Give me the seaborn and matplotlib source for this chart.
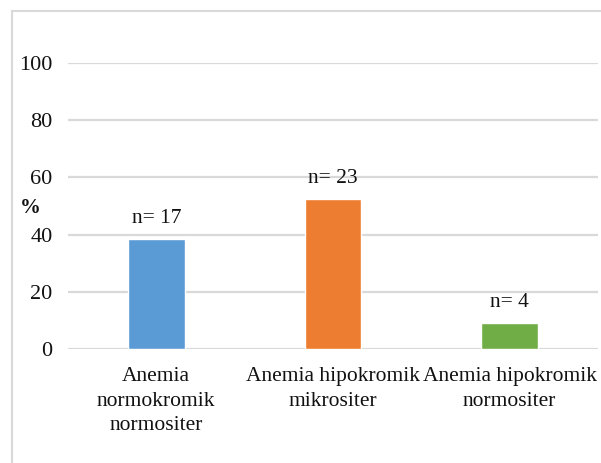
import matplotlib
matplotlib.use("Agg")
import matplotlib.pyplot as plt
import seaborn as sns
from matplotlib.patches import Rectangle

# Data
categories = ["Anemia\nnormokromik\nnormositer",
              "Anemia hipokromik\nmikrositer",
              "Anemia hipokromik\nnormositer"]
percent = [38.6, 52.3, 9.1]
counts = [17, 23, 4]
bar_colors = ["#5B9BD5", "#ED7D31", "#70AD47"]
y_ticks = [0, 20, 40, 60, 80, 100]

sns.set_style("white")
plt.rcParams["font.family"] = ["Liberation Serif", "DejaVu Serif"]

fig = plt.figure(figsize=(6.01, 4.63), dpi=100)
ax = fig.add_axes([0.113, 0.246, 0.882, 0.618])

# Outer chart border (cut by the image edge on the right and bottom)
fig.patches.append(Rectangle((12 / 601, -0.1), 1.2, 1 - 11 / 463 + 0.1,
                             transform=fig.transFigure, fill=False,
                             edgecolor="#D9D9D9", linewidth=1.5, zorder=0))

sns.barplot(x=categories, y=percent, hue=categories, palette=bar_colors,
            legend=False, width=0.32, saturation=1, ax=ax, zorder=3)

for i, (p, n) in enumerate(zip(percent, counts)):
    ax.annotate(f"n= {n}", (i, p), xytext=(0, 8), textcoords="offset points",
                ha="center", va="bottom", fontsize=15.5, color="#111111")

ax.set_ylim(0, 100)
ax.set_yticks(y_ticks)
ax.set_xlim(-0.5, 2.5)
ax.yaxis.grid(True, color="#D9D9D9", linewidth=1.6, zorder=0)
ax.set_axisbelow(True)
for s in ax.spines.values():
    s.set_visible(False)
ax.tick_params(axis="y", length=0, pad=11, labelsize=16, labelcolor="#111111")
ax.tick_params(axis="x", length=0, pad=13, labelsize=15.5, labelcolor="#111111")
for lbl in ax.get_xticklabels():
    lbl.set_linespacing(1.4)
ax.set_xlabel("")
ax.set_ylabel("")

fig.text(30 / 601, 1 - 208 / 463, "%", fontsize=15, fontweight="bold",
         ha="center", va="center", color="#111111")

fig.savefig("out.png", dpi=100)
